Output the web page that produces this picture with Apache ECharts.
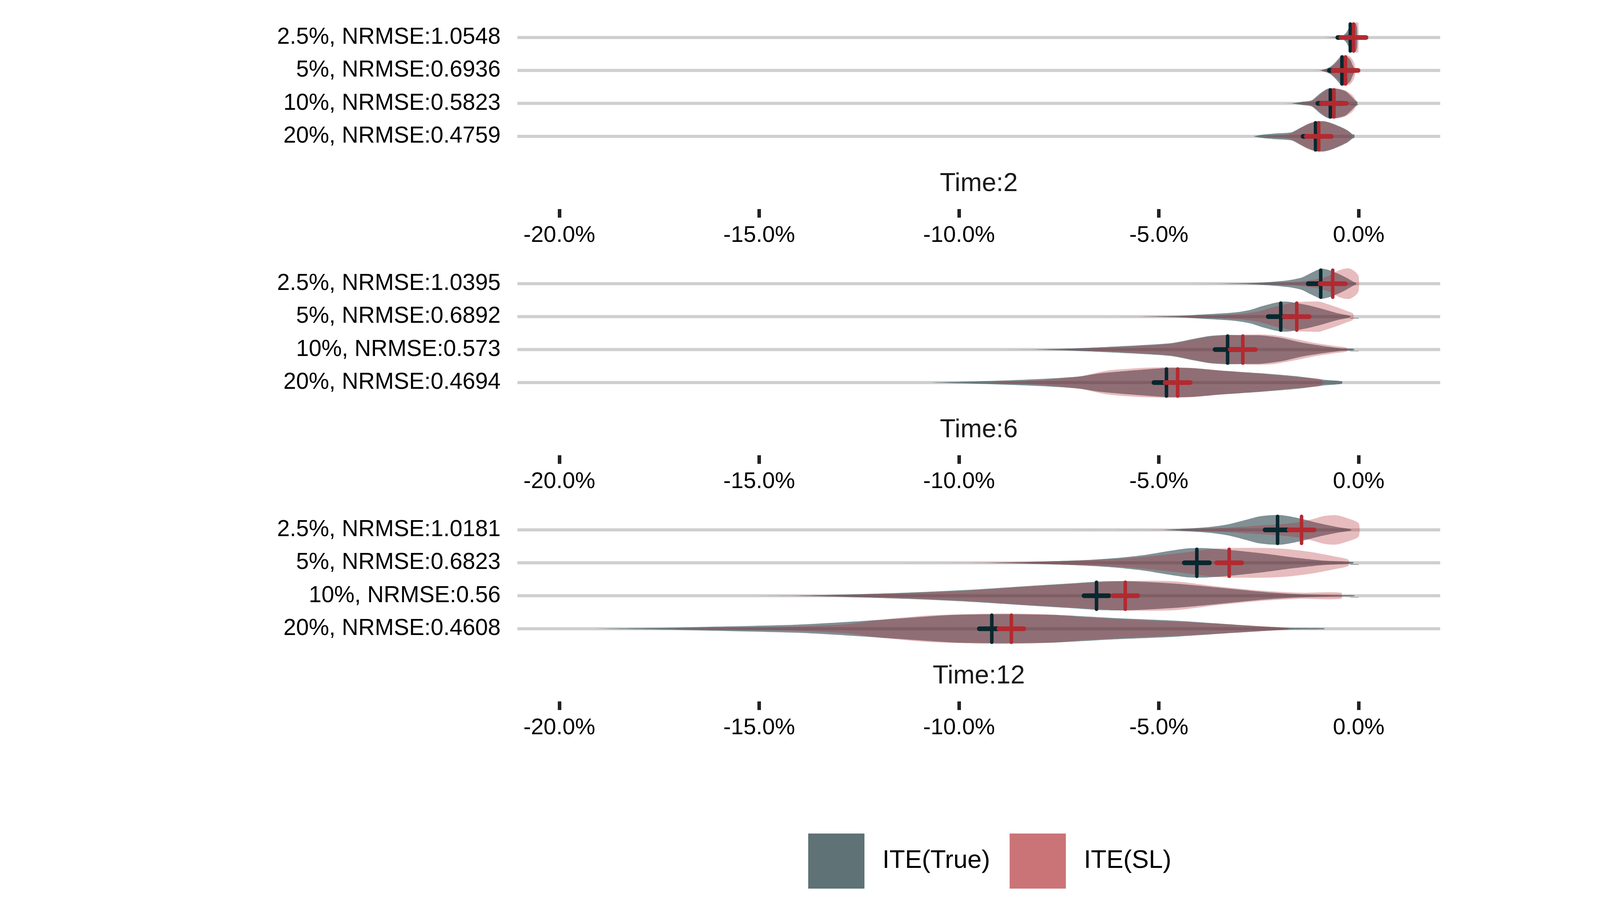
<!DOCTYPE html>
<html><head><meta charset="utf-8">
<script src="https://cdn.jsdelivr.net/npm/echarts@6/dist/echarts.min.js"></script>
<style>html,body{margin:0;padding:0;background:#fff}#c{width:4251px;height:2362px}</style>
</head><body><div id="c"></div>
<script>
// ---------- data ----------
const panelTitles = ['Time:2', 'Time:6', 'Time:12'];
const rowLabelsT2 = ['2.5%, NRMSE:1.0548', '5%, NRMSE:0.6936', '10%, NRMSE:0.5823', '20%, NRMSE:0.4759'];
const rowLabelsT6 = ['2.5%, NRMSE:1.0395', '5%, NRMSE:0.6892', '10%, NRMSE:0.573', '20%, NRMSE:0.4694'];
const rowLabelsT12 = ['2.5%, NRMSE:1.0181', '5%, NRMSE:0.6823', '10%, NRMSE:0.56', '20%, NRMSE:0.4608'];
const xTicks = [-20, -15, -10, -5, 0];
const seriesNames = ['ITE(True)', 'ITE(SL)'];

// mean markers (percent)
const meanTrueT2 = [-0.21, -0.42, -0.71, -1.08];
const meanSLT2 = [-0.13, -0.33, -0.62, -1.00];
const meanTrueT6 = [-0.95, -1.95, -3.28, -4.81];
const meanSLT6 = [-0.65, -1.55, -2.90, -4.53];
const meanTrueT12 = [-2.03, -4.05, -6.56, -9.18];
const meanSLT12 = [-1.43, -3.24, -5.84, -8.69];

// violin profiles: [value %, relative density (0..1)] per row
const violinTrueT2 = [
  [[-0.88,0],[-0.6,0.02],[-0.42,0.08],[-0.32,0.3],[-0.25,0.6],[-0.18,0.9],[-0.12,1],[-0.07,0.9],[-0.04,0.6]],
  [[-0.96,0],[-0.78,0.15],[-0.68,0.3],[-0.58,0.55],[-0.48,0.85],[-0.41,1],[-0.31,0.95],[-0.21,0.7],[-0.16,0.4],[-0.11,0.1]],
  [[-1.68,0],[-1.43,0.1],[-1.18,0.2],[-0.98,0.63],[-0.83,0.9],[-0.73,1],[-0.53,0.95],[-0.33,0.8],[-0.18,0.45],[-0.085,0.2],[-0.035,0.1]],
  [[-2.63,0],[-2.43,0.1],[-2.08,0.19],[-1.68,0.27],[-1.48,0.53],[-1.28,0.79],[-1.08,0.96],[-0.88,1],[-0.68,0.87],[-0.48,0.66],[-0.28,0.4],[-0.16,0.15],[-0.11,0.1]]
];
const violinSLT2 = [
  [[-0.9,0],[-0.6,0.02],[-0.4,0.06],[-0.3,0.2],[-0.2,0.6],[-0.12,0.9],[-0.06,1],[-0.01,0.95]],
  [[-1.18,0],[-0.96,0.02],[-0.78,0.1],[-0.58,0.45],[-0.43,0.85],[-0.33,1],[-0.21,0.9],[-0.13,0.6],[-0.085,0.2]],
  [[-1.88,0],[-1.43,0.05],[-1.18,0.15],[-0.98,0.55],[-0.83,0.85],[-0.68,1],[-0.48,0.97],[-0.33,0.85],[-0.16,0.55],[-0.06,0.15]],
  [[-2.38,0],[-1.88,0.1],[-1.68,0.2],[-1.48,0.5],[-1.28,0.82],[-1.08,1],[-0.88,0.98],[-0.68,0.85],[-0.48,0.62],[-0.28,0.35],[-0.18,0.15]]
];
const violinTrueT6 = [
  [[-3.5,0],[-2.7,0.04],[-2.22,0.11],[-1.72,0.24],[-1.42,0.41],[-1.22,0.67],[-1.02,0.92],[-0.92,1],[-0.72,0.88],[-0.52,0.67],[-0.32,0.41],[-0.12,0.11],[-0.07,0.06]],
  [[-5.5,0],[-4.51,0.05],[-3.9,0.14],[-3.12,0.27],[-2.72,0.44],[-2.42,0.69],[-2.12,0.9],[-1.92,0.99],[-1.72,0.97],[-1.32,0.78],[-0.92,0.52],[-0.52,0.22],[-0.22,0.05]],
  [[-8.15,0],[-7.1,0.08],[-6.1,0.2],[-4.71,0.42],[-4.11,0.72],[-3.72,0.9],[-3.32,0.97],[-2.92,0.95],[-2.42,0.93],[-1.92,0.76],[-1.42,0.46],[-0.92,0.25],[-0.42,0.08],[-0.12,0.05]],
  [[-10.72,0],[-9.5,0.08],[-8.0,0.23],[-7.0,0.4],[-6.5,0.6],[-5.5,0.83],[-4.8,0.96],[-4.2,0.95],[-3.5,0.8],[-2.5,0.62],[-1.5,0.4],[-0.92,0.2],[-0.42,0.08]]
];
const violinSLT6 = [
  [[-4.2,0],[-2.2,0.05],[-1.52,0.12],[-1.02,0.3],[-0.72,0.55],[-0.52,0.85],[-0.37,0.98],[-0.22,1],[-0.07,0.75],[0.0,0.45]],
  [[-6.6,0],[-4.5,0.03],[-3.5,0.1],[-2.9,0.2],[-2.5,0.35],[-2.1,0.65],[-1.72,0.88],[-1.42,0.98],[-1.02,1],[-0.92,0.95],[-0.52,0.6],[-0.27,0.35],[-0.14,0.2]],
  [[-9.2,0],[-7.1,0.05],[-6.1,0.15],[-4.71,0.38],[-4.11,0.68],[-3.72,0.86],[-3.12,0.95],[-2.52,1],[-2.12,0.95],[-1.62,0.72],[-1.12,0.45],[-0.62,0.25],[-0.3,0.12]],
  [[-9.2,0],[-8.0,0.15],[-7.0,0.4],[-6.3,0.78],[-5.5,0.95],[-4.9,1],[-4.2,0.97],[-3.5,0.8],[-2.5,0.6],[-1.5,0.35],[-0.92,0.2]]
];
const violinTrueT12 = [
  [[-4.9,0],[-4.15,0.11],[-3.7,0.2],[-3.26,0.37],[-2.81,0.67],[-2.51,0.88],[-2.21,0.97],[-1.91,0.97],[-1.46,0.75],[-1.01,0.45],[-0.56,0.2],[-0.19,0.04]],
  [[-9.39,0],[-8.34,0.05],[-6.85,0.18],[-6.1,0.31],[-5.35,0.52],[-4.75,0.78],[-4.3,0.95],[-3.85,0.97],[-3.26,0.86],[-2.36,0.61],[-1.61,0.35],[-0.86,0.14],[-0.14,0.05]],
  [[-14.1,0],[-12.83,0.08],[-11.34,0.2],[-9.84,0.38],[-8.34,0.63],[-7.3,0.8],[-6.4,0.95],[-5.65,0.95],[-4.6,0.8],[-3.55,0.55],[-2.36,0.25],[-1.46,0.1],[-0.41,0.04],[-0.11,0.03]],
  [[-19.12,0],[-17.32,0.06],[-15.82,0.15],[-14.03,0.27],[-12.83,0.44],[-11.34,0.7],[-10.14,0.91],[-8.94,0.96],[-7.6,0.91],[-6.1,0.7],[-4.6,0.53],[-3.11,0.27],[-1.76,0.06],[-0.86,0.03]]
];
const violinSLT12 = [
  [[-7.67,0],[-4.9,0.02],[-4.15,0.06],[-3.26,0.15],[-2.51,0.28],[-1.91,0.38],[-1.46,0.52],[-1.16,0.7],[-0.86,0.92],[-0.56,0.97],[-0.26,0.75],[0.0,0.43]],
  [[-12.04,0],[-9.39,0.02],[-7.6,0.1],[-6.1,0.25],[-5.35,0.4],[-4.45,0.65],[-3.7,0.9],[-3.11,0.98],[-2.36,0.98],[-1.76,0.9],[-1.16,0.7],[-0.56,0.4],[-0.26,0.2]],
  [[-15.3,0],[-14.1,0.03],[-12.83,0.06],[-11.34,0.17],[-9.84,0.33],[-8.34,0.6],[-6.85,0.83],[-5.8,0.98],[-4.6,0.95],[-3.55,0.62],[-2.5,0.35],[-1.46,0.2],[-0.44,0.2]],
  [[-17.2,0],[-15.82,0.05],[-14.03,0.15],[-12.83,0.3],[-11.93,0.6],[-10.74,0.88],[-9.54,0.98],[-8.64,1],[-7.6,0.92],[-6.85,0.75],[-5.35,0.55],[-3.85,0.38],[-2.36,0.15],[-1.76,0.05]]
];

// ---------- chart ----------
const FONT = '"Liberation Sans", Arial, Helvetica, sans-serif';
const panels = [
  {title: panelTitles[0], labels: rowLabelsT2, mTrue: meanTrueT2, mSL: meanSLT2, vTrue: violinTrueT2, vSL: violinSLT2},
  {title: panelTitles[1], labels: rowLabelsT6, mTrue: meanTrueT6, mSL: meanSLT6, vTrue: violinTrueT6, vSL: violinSLT6},
  {title: panelTitles[2], labels: rowLabelsT12, mTrue: meanTrueT12, mSL: meanSLT12, vTrue: violinTrueT12, vSL: violinSLT12}
];
const X_MIN = -21.05, X_MAX = 2.04;
const GRID_LEFT = 1324.5, GRID_W = 2362.5, GRID_TOP0 = 53.85, PANEL_STEP = 630, GRID_H = 337.2;
const FILL_TRUE = 'rgba(11,42,51,0.52)', FILL_SL = 'rgba(178,40,46,0.31)';
const CROSS_TRUE = '#08272E', CROSS_SL = '#B22A30';

function gridlineRender(params, api) {
  const cs = params.coordSys;
  const c = api.coord([0, api.value(1)]);
  return {type: 'line', shape: {x1: cs.x, y1: c[1], x2: cs.x + cs.width, y2: c[1]},
          style: {stroke: '#CFCFCF', lineWidth: 8}};
}
function violinRender(profiles) {
  return function (params, api) {
    const pts = profiles[params.dataIndex];
    const row = api.value(1);
    const half = api.size([0, 1])[1] * 0.46;
    const top = [], bot = [];
    pts.forEach(function (p) {
      const c = api.coord([p[0], row]);
      top.push([c[0], c[1] - p[1] * half]);
      bot.push([c[0], c[1] + p[1] * half]);
    });
    return {type: 'polygon', shape: {points: top.concat(bot.reverse()), smooth: 0.25},
            style: {fill: api.visual('color')}};
  };
}
function crossRender(color) {
  return function (params, api) {
    const c = api.coord([api.value(0), api.value(1)]);
    const band = api.size([0, 1])[1];
    const vh = band * 0.41, hh = band * 0.38;
    return {type: 'group', children: [
      {type: 'line', shape: {x1: c[0], y1: c[1] - vh, x2: c[0], y2: c[1] + vh}, style: {stroke: color, lineWidth: 9, lineCap: 'round'}},
      {type: 'line', shape: {x1: c[0] - hh, y1: c[1], x2: c[0] + hh, y2: c[1]}, style: {stroke: color, lineWidth: 12, lineCap: 'round'}}
    ]};
  };
}

const grids = [], xAxes = [], yAxes = [], graphics = [];
const gridSeries = [], trueViolins = [], slViolins = [], trueCrosses = [], slCrosses = [];
panels.forEach(function (p, i) {
  const top = GRID_TOP0 + PANEL_STEP * i;
  grids.push({left: GRID_LEFT, width: GRID_W, top: top, height: GRID_H, containLabel: false});
  xAxes.push({
    type: 'value', gridIndex: i, min: X_MIN, max: X_MAX, offset: 144,
    splitLine: {show: false}, axisLine: {show: false},
    axisTick: {show: true, customValues: xTicks, length: 22, lineStyle: {color: '#222', width: 9}},
    axisLabel: {show: true, customValues: xTicks, formatter: function (v) { return v.toFixed(1) + '%'; },
                fontSize: 58, fontFamily: FONT, color: '#000', margin: 39}
  });
  yAxes.push({
    type: 'category', gridIndex: i, data: p.labels, inverse: true,
    axisLine: {show: false}, splitLine: {show: false},
    axisTick: {show: true, alignWithLabel: true, length: 21.5, lineStyle: {color: '#222', width: 8}},
    axisLabel: {fontSize: 58.5, fontFamily: FONT, color: '#000', margin: 43}
  });
  graphics.push({type: 'text', x: GRID_LEFT + GRID_W / 2, y: top + GRID_H + 80,
    style: {text: p.title, fontSize: 66, fontFamily: FONT, fill: '#1A1A1A', align: 'center', verticalAlign: 'middle'}});
  const rowsTrue = p.mTrue.map(function (m, r) { return [m, r]; });
  const rowsSL = p.mSL.map(function (m, r) { return [m, r]; });
  gridSeries.push({type: 'custom', silent: true, xAxisIndex: i, yAxisIndex: i, renderItem: gridlineRender, data: rowsTrue, legendHoverLink: false});
  trueViolins.push({type: 'custom', name: seriesNames[0], xAxisIndex: i, yAxisIndex: i, silent: true,
    itemStyle: {color: FILL_TRUE}, renderItem: violinRender(p.vTrue), data: rowsTrue});
  slViolins.push({type: 'custom', name: seriesNames[1], xAxisIndex: i, yAxisIndex: i, silent: true,
    itemStyle: {color: FILL_SL}, renderItem: violinRender(p.vSL), data: rowsSL});
  trueCrosses.push({type: 'custom', name: seriesNames[0], xAxisIndex: i, yAxisIndex: i, silent: true,
    itemStyle: {color: FILL_TRUE}, renderItem: crossRender(CROSS_TRUE), data: rowsTrue});
  slCrosses.push({type: 'custom', name: seriesNames[1], xAxisIndex: i, yAxisIndex: i, silent: true,
    itemStyle: {color: FILL_SL}, renderItem: crossRender(CROSS_SL), data: rowsSL});
});

const chart = echarts.init(document.getElementById('c'), null, {renderer: 'canvas'});
chart.setOption({
  backgroundColor: '#fff',
  animation: false,
  grid: grids,
  xAxis: xAxes,
  yAxis: yAxes,
  graphic: graphics,
  legend: {
    left: 2064, top: 2128, itemWidth: 144, itemHeight: 141, itemGap: 50, icon: 'rect',
    textStyle: {fontSize: 65, fontFamily: FONT, color: '#000', padding: [0, 0, 0, 41]},
    data: [{name: seriesNames[0], itemStyle: {color: '#5F7276'}}, {name: seriesNames[1], itemStyle: {color: '#CB7477'}}]
  },
  series: gridSeries.concat(trueViolins, slViolins, trueCrosses, slCrosses)
});
</script></body></html>
